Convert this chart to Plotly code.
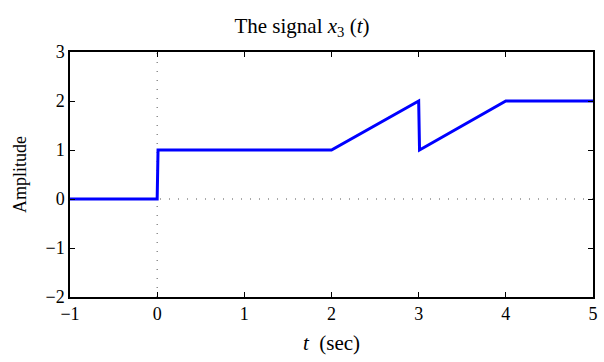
import plotly.graph_objects as go

t = [-1, 0, 0.01, 2, 3, 3.01, 4, 5]
x3 = [0, 0, 1, 1, 2, 1, 2, 2]
xticks = [-1, 0, 1, 2, 3, 4, 5]
yticks = [-2, -1, 0, 1, 2, 3]

FONT = "Liberation Serif"
fig = go.Figure()
fig.add_trace(go.Scatter(x=[0, 0], y=[-2, 3], mode="lines",
                         line=dict(color="#555555", width=1, dash="1px,8px"),
                         hoverinfo="skip"))
fig.add_trace(go.Scatter(x=[-1, 5], y=[0, 0], mode="lines",
                         line=dict(color="#555555", width=1, dash="1px,8px"),
                         hoverinfo="skip"))
fig.add_trace(go.Scatter(x=t, y=x3, mode="lines",
                         line=dict(color="#0000ff", width=3)))

axis_common = dict(showgrid=False, zeroline=False, showline=True, linecolor="black",
                   linewidth=1.5, mirror="ticks", ticks="inside", ticklen=5,
                   tickcolor="black", tickwidth=1,
                   tickfont=dict(family=FONT, size=18, color="black"))
fig.update_layout(
    width=604, height=362,
    margin=dict(l=70, r=6, t=52, b=65),
    paper_bgcolor="white", plot_bgcolor="white",
    showlegend=False,
    title=dict(text="The signal <i>x</i><sub>3</sub> (<i>t</i>)", x=0.5, xanchor="center",
               y=0.93, yanchor="middle",
               font=dict(family=FONT, size=21, color="black")),
    xaxis=dict(range=[-1, 5], tickvals=xticks, **axis_common,
               title=dict(text="<i>t</i>  (sec)", standoff=12,
                          font=dict(family=FONT, size=21, color="black"))),
    yaxis=dict(range=[-2, 3], tickvals=yticks, **axis_common,
               title=dict(text="Amplitude", standoff=14,
                          font=dict(family=FONT, size=18, color="black"))),
)
fig.write_html("out.html")
